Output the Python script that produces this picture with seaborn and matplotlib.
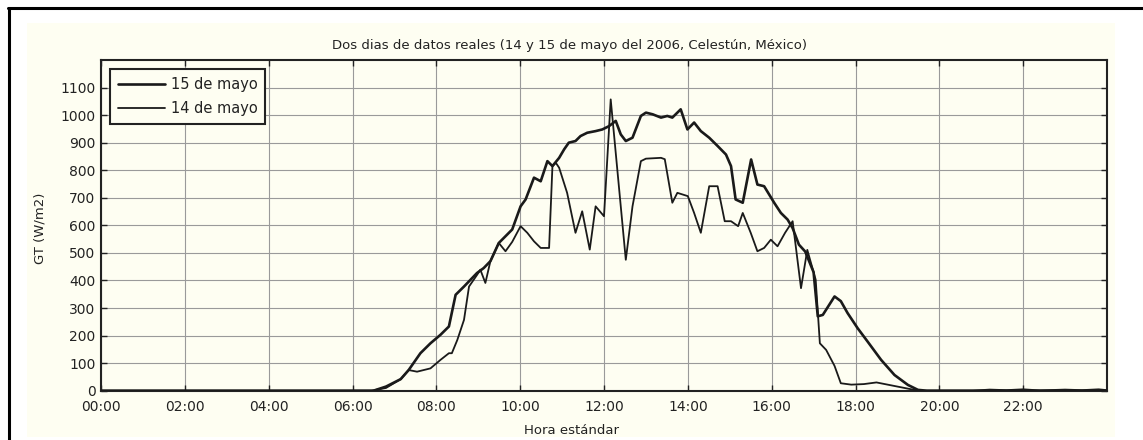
import matplotlib
matplotlib.use("Agg")
import matplotlib.pyplot as plt
from matplotlib.lines import Line2D
from matplotlib.patches import Rectangle
import pandas as pd
import seaborn as sns

# Global irradiance (W/m2) against standard hour of day, two consecutive days
hours_15 = [0.0, 6.5, 6.8, 7.15, 7.34, 7.62, 7.86, 8.1, 8.3, 8.46, 8.66, 8.97, 9.13,
            9.29, 9.49, 9.81, 10.01, 10.13, 10.33, 10.49, 10.65, 10.77, 10.93, 11.05,
            11.16, 11.32, 11.44, 11.6, 11.8, 11.96, 12.12, 12.28, 12.4, 12.52, 12.68,
            12.88, 13.0, 13.16, 13.36, 13.51, 13.63, 13.83, 13.99, 14.15, 14.31, 14.51,
            14.71, 14.91, 15.03, 15.14, 15.31, 15.51, 15.66, 15.82, 16.06, 16.22, 16.38,
            16.5, 16.65, 16.8, 17.0, 17.1, 17.22, 17.5, 17.65, 17.81, 18.05, 18.29,
            18.61, 18.93, 19.25, 19.49, 19.7, 24.0]
gt_15 = [0, 0, 15, 42, 75, 136, 172, 203, 233, 348, 378, 427, 445,
         470, 536, 585, 669, 694, 773, 760, 833, 815, 845, 876,
         900, 906, 924, 936, 942, 948, 960, 979, 930, 906, 918,
         997, 1009, 1003, 991, 997, 991, 1021, 948, 973, 942, 918,
         888, 857, 815, 694, 682, 839, 748, 742, 682, 645, 621,
         590, 530, 505, 430, 270, 275, 342, 325, 282, 227, 178,
         112, 57, 21, 3, 0, 0]

hours_14 = [0.0, 6.45, 6.8, 7.15, 7.34, 7.54, 7.86, 8.1, 8.3, 8.37, 8.5, 8.66, 8.78,
            8.97, 9.05, 9.17, 9.29, 9.49, 9.65, 9.81, 10.01, 10.17, 10.33, 10.49, 10.69,
            10.77, 10.85, 10.93, 11.12, 11.32, 11.48, 11.66, 11.8, 12.0, 12.16, 12.52,
            12.68, 12.88, 13.0, 13.36, 13.45, 13.63, 13.75, 14.0, 14.15, 14.31, 14.51,
            14.71, 14.88, 15.03, 15.2, 15.31, 15.5, 15.66, 15.82, 15.98, 16.14, 16.32,
            16.5, 16.7, 16.85, 17.05, 17.15, 17.3, 17.5, 17.65, 17.9, 18.2, 18.5, 18.8,
            19.1, 19.4, 19.6, 20.8, 21.2, 21.6, 22.0, 22.4, 23.0, 23.4, 23.8, 24.0]
gt_14 = [0, 0, 10, 42, 75, 69, 81, 112, 136, 136, 184, 257, 378,
         420, 439, 391, 470, 536, 506, 540, 597, 573, 542, 518, 518,
         815, 827, 809, 718, 573, 651, 512, 669, 633, 1057, 475,
         669, 833, 842, 845, 840, 682, 718, 706, 645, 573, 742,
         742, 615, 615, 597, 645, 573, 506, 518, 548, 524, 573,
         615, 372, 511, 403, 172, 148, 90, 27, 22, 24, 30, 21,
         12, 3, 0, 0, 4, 2, 5, 1, 4, 2, 5, 2]

hour_ticks = list(range(0, 24, 2))
hour_labels = [f"{h:02d}:00" for h in hour_ticks]
gt_ticks = list(range(0, 1200, 100))

day_labels = ["15 de mayo", "14 de mayo"]

sns.set_theme(style="ticks")
plt.rcParams["font.family"] = ["DejaVu Sans"]

W, H = 1143, 440
fig = plt.figure(figsize=(W / 100, H / 100), dpi=100)
fig.patch.set_facecolor("white")
cream = "#fefef2"
ink = "#222222"

# cream panel and black frame edges
fig.add_artist(Rectangle((27 / W, 1 - 437 / H), (1115 - 27) / W, (437 - 23) / H,
                         transform=fig.transFigure, facecolor=cream,
                         edgecolor="none", zorder=0))
fig.add_artist(Line2D([8 / W, 1.0], [1 - 8.5 / H] * 2, color="black", lw=2.2,
                      transform=fig.transFigure))
fig.add_artist(Line2D([8.5 / W] * 2, [0.0, 1 - 8 / H], color="black", lw=2.2,
                      transform=fig.transFigure))

ax = fig.add_axes([101 / W, 1 - 390.7 / H, (1107 - 101) / W, (390.7 - 60) / H])
ax.set_facecolor(cream)

df15 = pd.DataFrame({"hora": hours_15, "gt": gt_15})
df14 = pd.DataFrame({"hora": hours_14, "gt": gt_14})
sns.lineplot(data=df15, x="hora", y="gt", ax=ax, color="#1a1a1a", linewidth=1.9,
             label=day_labels[0], zorder=3)
sns.lineplot(data=df14, x="hora", y="gt", ax=ax, color="#1a1a1a", linewidth=1.3,
             label=day_labels[1], zorder=3)

ax.set_xlim(0, 24)
ax.set_ylim(0, 1200)
ax.set_xticks(hour_ticks)
ax.set_xticklabels(hour_labels)
ax.set_yticks(gt_ticks)
ax.set_xlabel("")
ax.set_ylabel("")
ax.grid(True, color="#9a9a9a", linewidth=0.8)
ax.set_axisbelow(True)
for s in ax.spines.values():
    s.set_color(ink)
    s.set_linewidth(1.5)
ax.tick_params(direction="in", top=True, right=True, length=4, width=1,
               color=ink, labelcolor=ink, labelsize=10, pad=4)
ax.tick_params(axis="x", pad=7)

leg = ax.legend(loc="upper left", bbox_to_anchor=(110 / W, 1 - 69 / H),
                bbox_transform=fig.transFigure, borderaxespad=0, fontsize=10.5,
                handlelength=3.2, handletextpad=0.4, frameon=True, fancybox=False,
                edgecolor=ink, facecolor=cream, framealpha=1, borderpad=0.55,
                labelspacing=0.6)
leg.get_frame().set_linewidth(1.5)
for t in leg.get_texts():
    t.set_color(ink)

fig.text(569 / W, 1 - 46 / H,
         "Dos dias de datos reales (14 y 15 de mayo del 2006, Celestún, México)",
         ha="center", va="center", fontsize=9.5, color=ink)
fig.text(572 / W, 1 - 430 / H, "Hora estándar", ha="center", va="center",
         fontsize=9.5, color=ink)
fig.text(40 / W, 1 - 228 / H, "GT (W/m2)", ha="center", va="center",
         rotation=90, fontsize=9.5, color=ink)

fig.savefig("out.png", dpi=100)
